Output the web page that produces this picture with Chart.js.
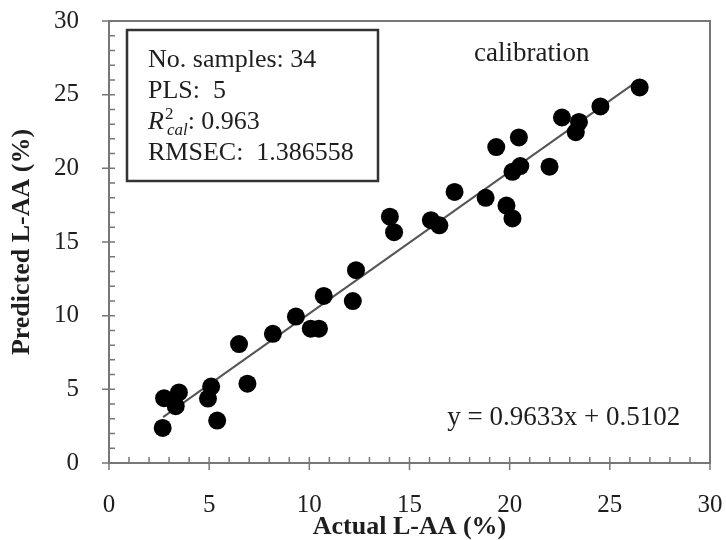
<!DOCTYPE html>
<html>
<head>
<meta charset="utf-8">
<script src="https://cdn.jsdelivr.net/npm/chart.js@4.4.1/dist/chart.umd.min.js"></script>
<style>
  html, body { margin: 0; padding: 0; background: #ffffff; }
  #wrap { width: 726px; height: 540px; }
</style>
</head>
<body>
<div id="wrap"><canvas id="c" width="726" height="540"></canvas></div>
<script>
// ---- data ----
const actualX = [2.68, 2.75, 3.33, 3.49, 4.94, 5.10, 5.40, 6.49, 6.91, 8.18,
                 9.33, 10.07, 10.48, 10.72, 12.17, 12.33, 14.02, 14.23, 16.07, 16.49,
                 17.25, 18.80, 19.33, 19.84, 20.14, 20.14, 20.46, 20.53, 21.99, 22.61,
                 23.30, 23.46, 24.53, 26.49];
const predictedY = [2.38, 4.40, 3.86, 4.79, 4.37, 5.19, 2.88, 8.07, 5.38, 8.77,
                    9.94, 9.12, 9.12, 11.34, 10.99, 13.09, 16.72, 15.67, 16.48, 16.13,
                    18.40, 18.00, 21.44, 17.47, 16.60, 19.76, 22.10, 20.15, 20.11, 23.45,
                    22.45, 23.15, 24.20, 25.49];
const fitX = [2.7, 26.5];
const fitY = [3.11, 26.04];
const xTickValues = [0, 5, 10, 15, 20, 25, 30];
const yTickValues = [0, 5, 10, 15, 20, 25, 30];
const xTitle = 'Actual L-AA (%)';
const yTitle = 'Predicted L-AA (%)';
const infoSamples = 'No. samples: 34';
const infoPLS = 'PLS:  5';
const infoR2 = ': 0.963';
const infoRMSEC = 'RMSEC:  1.386558';
const labelCalibration = 'calibration';
const labelEquation = 'y = 0.9633x + 0.5102';

const SERIF = '"Liberation Serif", "Times New Roman", serif';
const AXIS_COLOR = '#777777';
const TEXT_COLOR = '#1e1e1e';

const points = actualX.map((x, i) => ({ x: x, y: predictedY[i] }));
const fitPoints = fitX.map((x, i) => ({ x: x, y: fitY[i] }));

const decorPlugin = {
  id: 'decor',
  afterDatasetsDraw(chart) {
    const ctx = chart.ctx;
    const a = chart.chartArea;
    const xs = chart.scales.x, ys = chart.scales.y;
    ctx.save();
    // frame top / right
    ctx.strokeStyle = AXIS_COLOR;
    ctx.lineWidth = 2;
    ctx.beginPath();
    ctx.moveTo(a.left, a.top); ctx.lineTo(a.right, a.top); ctx.lineTo(a.right, a.bottom);
    ctx.stroke();
    // tick marks
    ctx.lineWidth = 1.5;
    ctx.beginPath();
    for (let v = xs.min; v <= xs.max; v += 1) {
      const px = xs.getPixelForValue(v);
      const major = v % 5 === 0;
      ctx.moveTo(px, a.bottom + (major ? 7 : 0));
      ctx.lineTo(px, a.bottom - 6);
    }
    for (let v = ys.min; v <= ys.max; v += 1) {
      const py = ys.getPixelForValue(v);
      const major = v % 5 === 0;
      ctx.moveTo(a.left - (major ? 7 : 0), py);
      ctx.lineTo(a.left + 6, py);
    }
    ctx.stroke();

    // info box
    const bx = a.left + 18, by = a.top + 9, bw = 251, bh = 151;
    ctx.strokeStyle = '#333333';
    ctx.lineWidth = 2.5;
    ctx.strokeRect(bx, by, bw, bh);

    ctx.fillStyle = TEXT_COLOR;
    ctx.textBaseline = 'alphabetic';
    ctx.textAlign = 'left';
    const tx = bx + 21;
    const lh = 31;
    const base0 = by + 37;
    ctx.font = '26px ' + SERIF;
    ctx.fillText(infoSamples, tx, base0);
    ctx.fillText(infoPLS, tx, base0 + lh);
    // R^2_cal line
    let cx = tx;
    const b3 = base0 + 2 * lh;
    ctx.font = 'italic 26px ' + SERIF;
    ctx.fillText('R', cx, b3);
    cx += ctx.measureText('R').width;
    ctx.font = '17px ' + SERIF;
    ctx.fillText('2', cx + 1, b3 - 10);
    ctx.font = 'italic 17px ' + SERIF;
    ctx.fillText('cal', cx + 3, b3 + 6);
    cx += 3 + ctx.measureText('cal').width;
    ctx.font = '26px ' + SERIF;
    ctx.fillText(infoR2, cx, b3);
    ctx.fillText(infoRMSEC, tx, base0 + 3 * lh);

    // labels
    ctx.textAlign = 'center';
    ctx.textBaseline = 'middle';
    ctx.font = '27px ' + SERIF;
    ctx.fillText(labelCalibration, xs.getPixelForValue(21.1), ys.getPixelForValue(27.8));
    ctx.fillText(labelEquation, xs.getPixelForValue(22.7), ys.getPixelForValue(3.05));
    ctx.restore();
  }
};

new Chart(document.getElementById('c'), {
  type: 'scatter',
  data: {
    datasets: [
      {
        type: 'line',
        data: fitPoints,
        borderColor: '#555555',
        borderWidth: 2,
        pointRadius: 0,
        fill: false,
        order: 2
      },
      {
        data: points,
        backgroundColor: '#000000',
        borderColor: '#000000',
        borderWidth: 0,
        pointRadius: 9,
        order: 1
      }
    ]
  },
  options: {
    responsive: false,
    animation: false,
    devicePixelRatio: 1,
    layout: { autoPadding: false, padding: { top: 21, right: 16, left: 0, bottom: 0 } },
    plugins: { legend: { display: false }, tooltip: { enabled: false } },
    scales: {
      x: {
        type: 'linear',
        min: 0, max: 30,
        afterFit(s) { s.height = 77; s.paddingLeft = 0; s.paddingRight = 0; },
        afterBuildTicks(s) { s.ticks = xTickValues.map(v => ({ value: v })); },
        grid: { display: false, drawTicks: false },
        border: { display: true, color: AXIS_COLOR, width: 2 },
        ticks: {
          padding: 27,
          color: TEXT_COLOR,
          font: { family: SERIF, size: 25 },
          maxRotation: 0
        },
        title: {
          display: true,
          text: xTitle,
          color: TEXT_COLOR,
          font: { family: SERIF, size: 26, weight: 'bold', lineHeight: 1 },
          padding: { top: 0, bottom: 0 }
        }
      },
      y: {
        type: 'linear',
        min: 0, max: 30,
        afterFit(s) { s.width = 109; s.paddingTop = 0; s.paddingBottom = 0; },
        afterBuildTicks(s) { s.ticks = yTickValues.map(v => ({ value: v })); },
        grid: { display: false, drawTicks: false },
        border: { display: true, color: AXIS_COLOR, width: 2 },
        ticks: {
          padding: 30,
          color: TEXT_COLOR,
          font: { family: SERIF, size: 25 }
        },
        title: {
          display: true,
          text: yTitle,
          color: TEXT_COLOR,
          font: { family: SERIF, size: 26, weight: 'bold', lineHeight: 1 },
          padding: { top: 9, bottom: 0 }
        }
      }
    }
  },
  plugins: [decorPlugin]
});
</script>
</body>
</html>
